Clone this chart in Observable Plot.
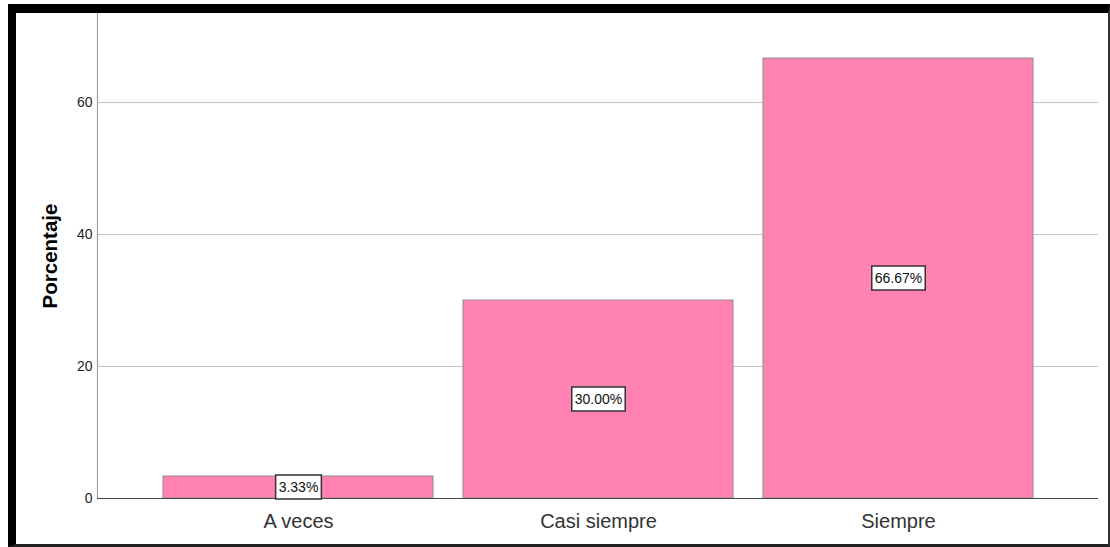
<!DOCTYPE html>
<html>
<head>
<meta charset="utf-8">
<script src="https://cdn.jsdelivr.net/npm/d3@7"></script>
<script src="https://cdn.jsdelivr.net/npm/@observablehq/plot@0.6"></script>
<style>
  html, body { margin: 0; padding: 0; background: #fff; }
  #wrap { position: relative; width: 1110px; height: 547px; overflow: hidden; }
  #frame {
    position: absolute; left: 8px; top: 4px; width: 1102px; height: 543px;
    box-sizing: border-box; pointer-events: none;
    border-left: 8px solid #000; border-top: 9px solid #000;
    border-right: 2px solid #333; border-bottom: 3px solid #222;
  }
  svg { font-family: "Liberation Sans", Arial, sans-serif; }
  [aria-label^="x-axis"] text { font-size: 20px; fill: #333; }
  [aria-label^="y-axis"] text { font-size: 14px; fill: #222; }
</style>
</head>
<body>
<div id="wrap"><div id="frame"></div></div>
<script>
const categories = ["A veces", "Casi siempre", "Siempre"];
const percentages = [3.33, 30.00, 66.67];
const yTicks = [0, 20, 40, 60];
const gridTicks = [20, 40, 60];
const yTitle = "Porcentaje";

const data = categories.map((c, i) => ({category: c, value: percentages[i]}));

const chart = Plot.plot({
  width: 1110,
  height: 547,
  marginLeft: 97,
  marginRight: 12,
  marginTop: 13,
  marginBottom: 49,
  style: {background: "transparent", fontFamily: "Liberation Sans, Arial, sans-serif"},
  x: {domain: categories, paddingInner: 0.1, paddingOuter: 0.215, label: null, tickSize: 0, tickPadding: 15},
  y: {domain: [0, 73.5], ticks: yTicks, label: null, tickSize: 0, tickPadding: 5},
  marks: [
    Plot.gridY(gridTicks, {stroke: "#c4c4c4", strokeOpacity: 1, strokeWidth: 1}),
    Plot.barY(data, {x: "category", y: "value", fill: "#ff82b3", stroke: "#8c8c8c", strokeWidth: 1}),
    Plot.frame({anchor: "left", stroke: "#a0a0a0", strokeWidth: 1.2}),
    Plot.ruleY([0], {stroke: "#444", strokeWidth: 1.2}),
    Plot.text(data, {
      x: "category", y: d => d.value / 2,
      text: d => d.value.toFixed(2) + "%",
      fontSize: 14, fill: "#111", className: "vlabel"
    }),
    Plot.text([yTitle], {
      frameAnchor: "left", dx: -47, rotate: -90, textAnchor: "middle", lineAnchor: "middle",
      fontSize: 20.5, fontWeight: "bold", fill: "#000"
    })
  ]
});
document.getElementById("wrap").insertBefore(chart, document.getElementById("frame"));

// white boxes behind value labels
chart.querySelectorAll(".vlabel text").forEach(t => {
  const b = t.getBBox();
  const r = document.createElementNS("http://www.w3.org/2000/svg", "rect");
  const px = 3, py = 4;
  r.setAttribute("x", b.x - px);
  r.setAttribute("y", b.y - py);
  r.setAttribute("width", b.width + 2 * px);
  r.setAttribute("height", b.height + 2 * py);
  r.setAttribute("fill", "#fff");
  r.setAttribute("stroke", "#333");
  r.setAttribute("stroke-width", 1.5);
  const tr = t.getAttribute("transform");
  if (tr) r.setAttribute("transform", tr);
  t.parentNode.insertBefore(r, t);
});
</script>
</body>
</html>
